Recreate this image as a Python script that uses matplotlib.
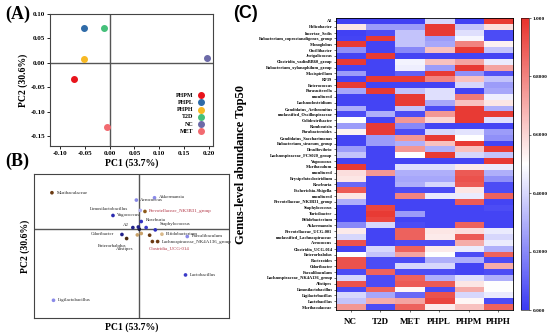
import numpy as np
import matplotlib
matplotlib.use("Agg")
import matplotlib.pyplot as plt
from matplotlib.colors import LinearSegmentedColormap

plt.rcParams['font.family'] = ['Liberation Serif', 'DejaVu Serif']
plt.rcParams['font.weight'] = 'bold'

# ---- panel A: PCoA of groups
groups = ['PHPM', 'PHPL', 'PHPH', 'T2D', 'NC', 'MET']
pc1 = [-0.072, -0.052, -0.052, -0.012, 0.196, -0.005]
pc2 = [-0.032, 0.071, 0.007, 0.071, 0.010, -0.131]
group_colors = ['#E8141C', '#2F6BA8', '#F7B924', '#45C07A', '#6C6AA8', '#F26A70']

# ---- panel B: genus loadings
genus_b = ['Muribaculaceae', 'Akkermansia', 'Aerococcus', 'Prevotellaceae_NK3B31_group',
           'Limosilactobacillus', 'Vagococcus', 'Roseburia', 'Staphylococcus', 'A2',
           'Bifidobacterium', 'Faecalibaculum', 'Lachnospiraceae_NK4A136_group',
           'Clostridia_UCG-014', 'Odoribacter', 'Enterorhabdus', 'Alistipes',
           'Lactobacillus', 'Ligilactobacillus', '', '', '', '', '']
load_x = [-0.448, 0.078, -0.015, 0.029, 0.005, -0.135, 0.010, 0.082, -0.033,
          0.116, 0.246, 0.094, 0.067, -0.089, -0.065, -0.010, 0.237, -0.440,
          0.000, 0.035, 0.053, 0.010, -0.005]
load_y = [0.253, 0.218, 0.202, 0.123, 0.130, 0.095, 0.053, -0.005, 0.011,
          -0.035, -0.051, -0.086, -0.086, -0.037, -0.065, -0.040, -0.318, -0.494,
          0.000, 0.011, -0.042, -0.030, 0.015]
load_c = ['#6B3A12', '#8A8AE8', '#8A8AE8', '#8C5A1A', '#B0B0F0', '#2B2BB0', '#3030C0',
          '#3030C0', '#20208A', '#D9B98A', '#8A8AE8', '#6B3A12', '#6B3A12', '#20208A',
          '#4A2A10', '#C9A26A', '#3A3AC8', '#8A8AE8', '#1A1A3A', '#3A3AC8', '#6B3A12',
          '#C9A26A', '#20208A']

# ---- panel C: heatmap
genus_c = ['A2', 'Helicobacter', 'Incertae_Sedis', 'Eubacterium_coprostanoligenes_group',
           'Monoglobus', 'Oscillibacter', 'Jeotgalicoccus', 'Clostridia_vadinBB60_group',
           'Eubacterium_xylanophilum_group', 'Mucispirillum', 'RF39', 'Enterococcus',
           'Parasutterella', 'uncultured', 'Lachnoclostridium', 'Candidatus_Arthromitus',
           'unclassified_Oscillospiraceae', 'Colidextribacter', 'Romboutsia',
           'Parabacteroides', 'Candidatus_Saccharimonas', 'Eubacterium_siraeum_group',
           'Desulfovibrio', 'Lachnospiraceae_FCS020_group', 'Vagococcus', 'Muribaculum',
           'uncultured', 'Erysipelatoclostridium', 'Roseburia', 'Escherichia-Shigella',
           'uncultured', 'Prevotellaceae_NK3B31_group', 'Staphylococcus', 'Turicibacter',
           'Bifidobacterium', 'Akkermansia', 'Prevotellaceae_UCG-001',
           'unclassified_Lachnospiraceae', 'Aerococcus', 'Clostridia_UCG-014',
           'Enterorhabdus', 'Bacteroides', 'Odoribacter', 'Faecalibaculum',
           'Lachnospiraceae_NK4A136_group', 'Alistipes', 'Limosilactobacillus',
           'Ligilactobacillus', 'Lactobacillus', 'Muribaculaceae']
columns = ['NC', 'T2D', 'MET', 'PHPL', 'PHPM', 'PHPH']
abund = [
    [0.02, 0.02, 0.02, 0.40, 0.02, 0.98],
    [0.56, 0.25, 0.25, 0.98, 0.35, 0.58],
    [0.02, 0.05, 0.35, 0.98, 0.42, 0.05],
    [0.03, 0.98, 0.35, 0.25, 0.48, 0.05],
    [0.98, 0.03, 0.35, 0.28, 0.80, 0.53],
    [0.22, 0.03, 0.20, 0.65, 0.98, 0.35],
    [0.03, 0.98, 0.03, 0.03, 0.03, 0.03],
    [0.98, 0.03, 0.47, 0.65, 0.72, 0.45],
    [0.03, 0.03, 0.46, 0.25, 0.98, 0.72],
    [0.25, 0.03, 0.10, 0.98, 0.22, 0.06],
    [0.03, 0.98, 0.98, 0.80, 0.65, 0.35],
    [0.98, 0.03, 0.03, 0.03, 0.40, 0.25],
    [0.28, 0.98, 0.35, 0.42, 0.03, 0.28],
    [0.03, 0.03, 0.98, 0.42, 0.82, 0.46],
    [0.03, 0.03, 0.98, 0.28, 0.65, 0.56],
    [0.30, 0.03, 0.35, 0.05, 0.98, 0.30],
    [0.05, 0.30, 0.05, 0.75, 0.98, 0.98],
    [0.50, 0.03, 0.75, 0.60, 0.98, 0.42],
    [0.25, 0.98, 0.20, 0.03, 0.03, 0.03],
    [0.53, 0.98, 0.05, 0.40, 0.43, 0.25],
    [0.03, 0.25, 0.75, 0.98, 0.50, 0.22],
    [0.03, 0.25, 0.30, 0.65, 0.98, 0.03],
    [0.25, 0.03, 0.75, 0.30, 0.65, 0.98],
    [0.35, 0.03, 0.50, 0.98, 0.40, 0.35],
    [0.03, 0.03, 0.03, 0.03, 0.03, 0.98],
    [0.98, 0.03, 0.42, 0.42, 0.55, 0.45],
    [0.58, 0.75, 0.30, 0.30, 0.90, 0.30],
    [0.56, 0.03, 0.28, 0.28, 0.92, 0.22],
    [0.12, 0.03, 0.30, 0.40, 0.90, 0.05],
    [0.90, 0.03, 0.05, 0.05, 0.56, 0.05],
    [0.56, 0.03, 0.80, 0.45, 0.45, 0.88],
    [0.30, 0.03, 0.03, 0.03, 0.90, 0.03],
    [0.03, 0.95, 0.03, 0.03, 0.03, 0.05],
    [0.03, 0.98, 0.25, 0.03, 0.03, 0.03],
    [0.03, 0.95, 0.03, 0.03, 0.03, 0.03],
    [0.20, 0.40, 0.05, 0.03, 0.88, 0.03],
    [0.55, 0.03, 0.88, 0.56, 0.58, 0.45],
    [0.40, 0.03, 0.88, 0.55, 0.90, 0.40],
    [0.92, 0.03, 0.05, 0.05, 0.70, 0.45],
    [0.03, 0.40, 0.88, 0.55, 0.45, 0.30],
    [0.50, 0.35, 0.72, 0.50, 0.05, 0.88],
    [0.92, 0.05, 0.05, 0.30, 0.30, 0.05],
    [0.92, 0.05, 0.40, 0.40, 0.03, 0.70],
    [0.05, 0.88, 0.05, 0.05, 0.03, 0.05],
    [0.40, 0.05, 0.88, 0.30, 0.42, 0.30],
    [0.92, 0.05, 0.90, 0.90, 0.56, 0.50],
    [0.05, 0.88, 0.52, 0.05, 0.70, 0.50],
    [0.40, 0.28, 0.12, 0.92, 0.40, 0.45],
    [0.35, 0.70, 0.72, 0.95, 0.52, 0.05],
    [0.75, 0.05, 0.88, 0.55, 0.65, 0.88],
]
cbar_ticks = [0.0, 0.2, 0.4, 0.6, 0.8, 1.0]
cbar_labels = ['0.000', '0.2000', '0.4000', '0.6000', '0.8000', '1.000']

W, H = 550, 334
fig = plt.figure(figsize=(W / 100, H / 100), dpi=100)

def box(l, t, r, b):
    return [l / W, 1 - b / H, (r - l) / W, (b - t) / H]

# ---------------- (A)
axA = fig.add_axes(box(50, 14, 213, 146))
axA.axhline(0, color='#555555', lw=1, zorder=1)
axA.axvline(0, color='#555555', lw=1, zorder=1)
for g, x, y, c in zip(groups, pc1, pc2, group_colors):
    axA.scatter(x, y, s=16, color=c, label=g, zorder=3)
axA.set_xlim(-0.12, 0.208)
axA.set_ylim(-0.17, 0.10)
axA.set_xticks([-0.10, -0.05, 0.0, 0.05, 0.10, 0.15, 0.20])
axA.set_yticks([-0.15, -0.10, -0.05, 0.0, 0.05, 0.10])
axA.xaxis.set_major_formatter(plt.FormatStrFormatter('%.2f'))
axA.yaxis.set_major_formatter(plt.FormatStrFormatter('%.2f'))
axA.tick_params(labelsize=5, length=2, width=0.6, pad=1.5)
for sp in axA.spines.values():
    sp.set_linewidth(0.8)
    sp.set_color('#444444')
axA.set_xlabel('PC1 (53.7%)', fontsize=7, fontweight='bold', labelpad=2)
axA.set_ylabel('PC2 (30.6%)', fontsize=7, fontweight='bold', labelpad=2)
axA.legend(loc='lower right', bbox_to_anchor=(0.99, 0.06), frameon=False, markerfirst=False,
           handletextpad=0.3, labelspacing=0.35, borderpad=0.2, markerscale=1.0,
           prop={'weight': 'bold', 'size': 4.3})

# ---------------- (B)
axB = fig.add_axes(box(34, 174, 229, 318))
axB.axhline(0, color='#555555', lw=1, zorder=1)
axB.axvline(0, color='#555555', lw=1, zorder=1)
axB.scatter(load_x, load_y, s=7, c=load_c, zorder=3, edgecolors='none')
offsets = {
    'Muribaculaceae': (0.025, 0, 'left'), 'Akkermansia': (0.022, 0.005, 'left'),
    'Aerococcus': (0.02, 0.0, 'left'), 'Prevotellaceae_NK3B31_group': (0.022, 0, 'left'),
    'Limosilactobacillus': (-0.06, 0.01, 'right'), 'Vagococcus': (0.022, 0, 'left'),
    'Roseburia': (0.022, 0.01, 'left'), 'Staphylococcus': (0.022, 0.04, 'left'),
    'A2': (-0.022, 0.02, 'right'), 'Bifidobacterium': (0.02, 0.0, 'left'),
    'Faecalibaculum': (0.022, 0.0, 'left'), 'Lachnospiraceae_NK4A136_group': (0.02, 0.0, 'left'),
    'Clostridia_UCG-014': (-0.02, -0.05, 'left'), 'Odoribacter': (-0.04, 0.0, 'right'),
    'Enterorhabdus': (0.0, -0.05, 'right'), 'Alistipes': (-0.02, -0.1, 'right'),
    'Lactobacillus': (0.022, 0.0, 'left'), 'Ligilactobacillus': (0.025, 0.0, 'left'),
}
for name, x, y in zip(genus_b, load_x, load_y):
    if not name:
        continue
    dx, dy, ha = offsets[name]
    col = '#B03040' if name in ('Clostridia_UCG-014', 'Prevotellaceae_NK3B31_group') else '#222222'
    axB.text(x + dx, y + dy, name, fontsize=3.5, ha=ha, va='center', color=col,
             fontweight='normal')
axB.set_xlim(-0.54, 0.46)
axB.set_ylim(-0.617, 0.383)
axB.set_xticks([])
axB.set_yticks([])
for sp in axB.spines.values():
    sp.set_linewidth(0.8)
    sp.set_color('#444444')
axB.set_xlabel('PC1 (53.7%)', fontsize=7, fontweight='bold', labelpad=3)
axB.set_ylabel('PC2 (30.6%)', fontsize=7, fontweight='bold', labelpad=3)

# ---------------- (C)
cmap = LinearSegmentedColormap.from_list('bwr2', ['#3A3AF4', '#FFFFFF', '#E8322C'])
axC = fig.add_axes(box(336, 18, 513, 310))
im = axC.imshow(np.array(abund), cmap=cmap, vmin=0, vmax=1, aspect='auto',
                interpolation='nearest')
axC.set_yticks(range(len(genus_c)))
axC.set_yticklabels(genus_c, fontsize=3.2, fontweight='bold')
axC.set_xticks(range(len(columns)))
axC.set_xticklabels(columns, fontsize=6.5, fontweight='bold')
axC.tick_params(axis='y', length=1.5, width=0.4, pad=1)
axC.tick_params(axis='x', length=1.5, width=0.4, pad=4)
for sp in axC.spines.values():
    sp.set_linewidth(0.6)
axC.set_ylabel('Genus-level abundance Top50', fontsize=9, fontweight='bold', labelpad=4)
axC.yaxis.set_label_coords(-0.5, 0.5)

cax = fig.add_axes(box(521, 18, 529, 310))
cb = fig.colorbar(im, cax=cax, ticks=cbar_ticks)
cb.ax.set_yticklabels(cbar_labels, fontsize=3.8, fontweight='bold')
cb.ax.tick_params(length=1.5, width=0.4, pad=1)
cb.outline.set_linewidth(0.4)

# panel letters
fig.text(5 / W, 1 - 14 / H, '(A)', fontsize=13, fontweight='bold', va='center')
fig.text(5 / W, 1 - 161 / H, '(B)', fontsize=13, fontweight='bold', va='center')
fig.text(233 / W, 1 - 13 / H, '(C)', fontsize=13, fontweight='bold', va='center',
         family=['Liberation Sans', 'DejaVu Sans'])

fig.savefig('out.png', dpi=100)
